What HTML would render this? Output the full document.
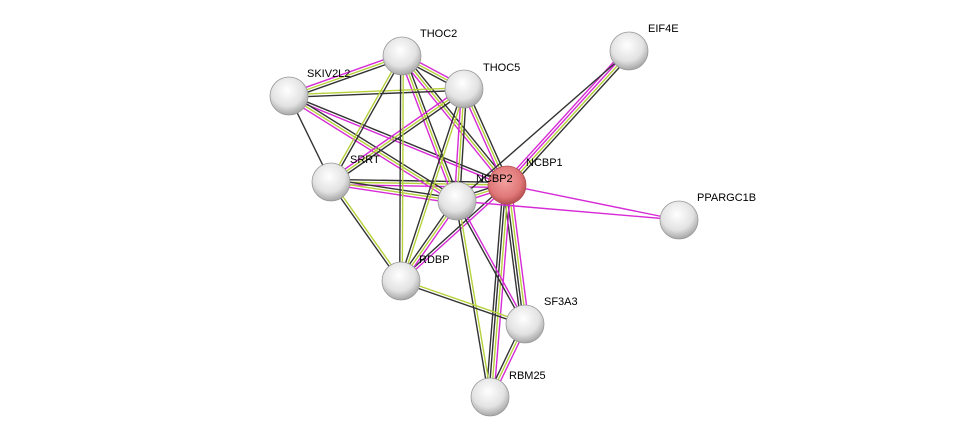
<!DOCTYPE html>
<html><head><style>
html,body{margin:0;padding:0;background:#fff;}
svg{display:block;}
text{font-family:"Liberation Sans",sans-serif;font-size:11px;fill:#000;}
</style></head><body>
<svg id="s" width="975" height="443" viewBox="0 0 975 443" xmlns="http://www.w3.org/2000/svg">
<defs>
<radialGradient id="g" cx="0.45" cy="0.35" r="0.7">
<stop offset="0" stop-color="#ffffff"/><stop offset="0.6" stop-color="#e2e2e2"/><stop offset="1" stop-color="#9a9a9a"/>
</radialGradient>
<radialGradient id="r" cx="0.45" cy="0.4" r="0.7">
<stop offset="0" stop-color="#f3a0a0"/><stop offset="0.6" stop-color="#e07878"/><stop offset="1" stop-color="#a03a3a"/>
</radialGradient>
</defs>
<g id="edges"></g>
<g id="nodes"></g>
</svg>
<script>
var N={THOC2:[402,56],THOC5:[464,89],SKIV2L2:[289,96],EIF4E:[629,51],NCBP1:[507,185],NCBP2:[457,201],SRRT:[331,182],PPARGC1B:[679,220],RDBP:[401,281],SF3A3:[525,324],RBM25:[490,397]};
var C={k:"#333",y:"#b5d23a",m:"#d62ad6"};
var E=[
["NCBP1","THOC2","myk"],["NCBP1","THOC5","myk"],["NCBP1","SKIV2L2","mk"],["NCBP1","SRRT","myk"],["NCBP1","NCBP2","myk"],["NCBP1","EIF4E","mmyk"],["NCBP1","PPARGC1B","m"],["NCBP1","RDBP","mk"],["NCBP1","SF3A3","mykk"],["NCBP1","RBM25","mykk"],
["NCBP2","THOC2","myk"],["NCBP2","THOC5","myk"],["NCBP2","SKIV2L2","myk"],["NCBP2","SRRT","myk"],["NCBP2","RDBP","myk"],["NCBP2","SF3A3","mk"],["NCBP2","RBM25","yk"],["NCBP2","PPARGC1B","m"],
["SKIV2L2","THOC2","myk"],["SKIV2L2","SRRT","k"],["SKIV2L2","THOC5","yk"],["SRRT","THOC2","yk"],["SRRT","THOC5","myk"],["SRRT","RDBP","yk"],
["THOC2","THOC5","myk"],["THOC2","RDBP","yk"],["THOC5","RDBP","yk"],["RDBP","SF3A3","yk"],["SF3A3","RBM25","myk"],["EIF4E","NCBP2","k"]
];
var ns="http://www.w3.org/2000/svg",eg=document.getElementById("edges"),ng=document.getElementById("nodes");
E.forEach(function(e){var a=N[e[0]],b=N[e[1]],dx=b[0]-a[0],dy=b[1]-a[1],L=Math.hypot(dx,dy),px=-dy/L,py=dx/L,n=e[2].length;
for(var i=0;i<n;i++){var o=(i-(n-1)/2)*2.6;var l=document.createElementNS(ns,"line");
l.setAttribute("x1",a[0]+px*o);l.setAttribute("y1",a[1]+py*o);l.setAttribute("x2",b[0]+px*o);l.setAttribute("y2",b[1]+py*o);
l.setAttribute("stroke",C[e[2][i]]);l.setAttribute("stroke-width","1.4");eg.appendChild(l);}});
var lab={THOC2:[420,33],THOC5:[483,67],SKIV2L2:[307,73],EIF4E:[648,28],NCBP1:[526,162],NCBP2:[476,178],SRRT:[350,159],PPARGC1B:[697,197],RDBP:[419,259],SF3A3:[544,301],RBM25:[509,375]};
for(var k in N){var c=document.createElementNS(ns,"circle");c.setAttribute("cx",N[k][0]);c.setAttribute("cy",N[k][1]);c.setAttribute("r",19);
c.setAttribute("fill",k=="NCBP1"?"url(#r)":"url(#g)");c.setAttribute("stroke",k=="NCBP1"?"#b05050":"#999");c.setAttribute("stroke-width","0.8");ng.appendChild(c);
var t=document.createElementNS(ns,"text");t.setAttribute("x",lab[k][0]);t.setAttribute("y",lab[k][1]+4);t.textContent=k;ng.appendChild(t);}
</script>
</body></html>
